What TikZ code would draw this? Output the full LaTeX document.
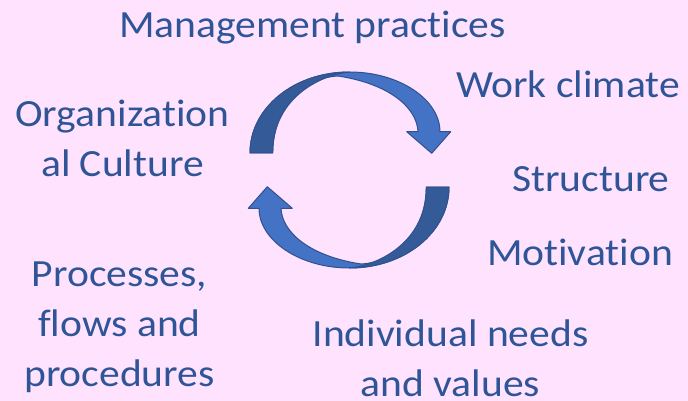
\documentclass[tikz,border=0pt]{standalone}
\usepackage{fontspec}
\newfontfamily\labelfont[FakeStretch=1.08,Ligatures=NoCommon]{Carlito}
\definecolor{bgpink}{HTML}{FFE3FE}
\definecolor{txtblue}{HTML}{2F5597}
\definecolor{arrowlight}{HTML}{4472C4}
\definecolor{arrowdark}{HTML}{345A98}
\definecolor{arrowedge}{HTML}{2F528F}
\begin{document}
\begin{tikzpicture}[x=1pt,y=-1pt]
\tikzstyle{every node}=[text=txtblue,font=\labelfont\fontsize{38.5}{50}\selectfont,align=center,anchor=base,inner sep=0pt];
\tikzstyle{body}=[fill=arrowlight,draw=arrowedge,line width=1pt,line join=round];
\tikzstyle{fold}=[fill=arrowdark,draw=arrowedge,line width=1pt,line join=round];
\fill[bgpink] (0,0) rectangle (688,401);
\useasboundingbox (0,0) rectangle (688,401);
\foreach \a in {0,180}{
\begin{scope}[rotate around={\a:(349.5,170)}]
\draw[body] (250,153) .. controls (250,108) and (294,72) .. (349.5,72)
  .. controls (400,72) and (440,100) .. (440,131.7)
  -- (450.7,131.7) -- (431.7,153.3) -- (406.7,131.7) -- (418,131.7)
  .. controls (417,108) and (390,84) .. (338,76)
  .. controls (300,78) and (272.7,110) .. (272.7,153) -- cycle;
\draw[fold] (250,153) .. controls (250,108) and (294,72) .. (349.5,72)
  .. controls (325,74) and (272.7,95) .. (272.7,153) -- cycle;
\end{scope}
}
\node (mgmt) at (312.5,37.3) {Management practices};
\node (org) at (122.5,176.7) {Organization\\al Culture};
\node (work) at (568,97.7) {Work climate};
\node (struct) at (591,191.7) {Structure};
\node (motiv) at (580,265) {Motivation};
\node (proc) at (119.5,386.7) {Processes,\\flows and\\procedures};
\node (indiv) at (450.5,396.7) {Individual needs\\and values};
\end{tikzpicture}
\end{document}
